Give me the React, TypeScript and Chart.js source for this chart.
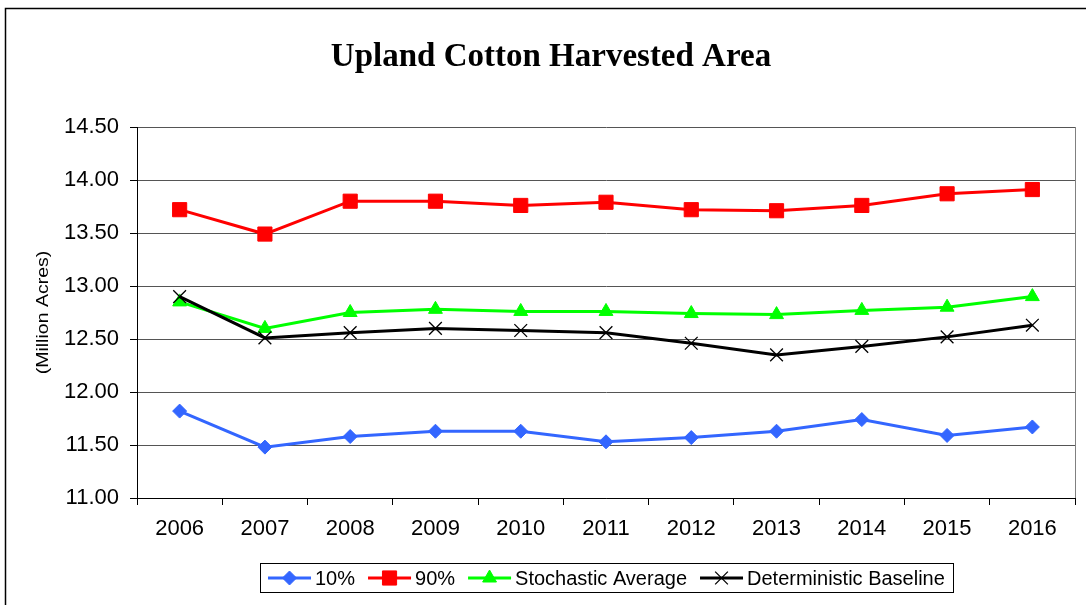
import { useEffect, useRef } from 'react';
import { Chart, registerables } from 'chart.js';
import { drawPoint } from 'chart.js/helpers';

Chart.register(...registerables);

const chartTitle = 'Upland Cotton Harvested Area';
const yAxisTitle = '(Million Acres)';
const years = ['2006', '2007', '2008', '2009', '2010', '2011', '2012', '2013', '2014', '2015', '2016'];
const p10 = [11.82, 11.48, 11.58, 11.63, 11.63, 11.53, 11.57, 11.63, 11.74, 11.59, 11.67];
const p90 = [13.72, 13.49, 13.80, 13.80, 13.76, 13.79, 13.72, 13.71, 13.76, 13.87, 13.91];
const stochasticAverage = [12.85, 12.60, 12.75, 12.78, 12.76, 12.76, 12.74, 12.73, 12.77, 12.80, 12.90];
const deterministicBaseline = [12.90, 12.51, 12.56, 12.60, 12.58, 12.56, 12.46, 12.35, 12.43, 12.52, 12.63];
const yMin = 11;
const yMax = 14.5;
const yStep = 0.5;

const SANS = 'Arial, "Liberation Sans", sans-serif';
const SERIF = '"Times New Roman", "Liberation Serif", serif';

const decorPlugin = {
  id: 'decor',
  beforeDraw(chart: any) {
    const ctx = chart.ctx;
    ctx.save();
    ctx.fillStyle = '#fff';
    ctx.fillRect(0, 0, chart.width, chart.height);
    // outer frame
    ctx.strokeStyle = '#000';
    ctx.lineWidth = 1.5;
    ctx.beginPath();
    ctx.moveTo(5.5, chart.height);
    ctx.lineTo(5.5, 8.5);
    ctx.lineTo(chart.width, 8.5);
    ctx.stroke();
    ctx.restore();
  },
  beforeDatasetsDraw(chart: any) {
    const ctx = chart.ctx;
    const a = chart.chartArea;
    ctx.save();
    ctx.strokeStyle = '#808080';
    ctx.lineWidth = 1;
    ctx.beginPath();
    ctx.moveTo(Math.round(a.right) + 0.5, a.top);
    ctx.lineTo(Math.round(a.right) + 0.5, a.bottom);
    ctx.stroke();
    ctx.restore();
  },
  afterDraw(chart: any) {
    const ctx = chart.ctx;
    const a = chart.chartArea;
    ctx.save();
    // title
    ctx.fillStyle = '#000';
    ctx.font = 'bold 33px ' + SERIF;
    ctx.textAlign = 'center';
    ctx.textBaseline = 'alphabetic';
    ctx.fillText(chartTitle, 551, 66);

    // y axis title (slightly stretched along its length)
    ctx.save();
    ctx.translate(44, (a.top + a.bottom) / 2);
    ctx.rotate(-Math.PI / 2);
    ctx.scale(1.22, 1);
    ctx.font = '16px ' + SANS;
    ctx.textAlign = 'center';
    ctx.textBaseline = 'middle';
    ctx.fillText(yAxisTitle, 0, 0);
    ctx.restore();

    // legend
    ctx.font = '20px ' + SANS;
    ctx.textBaseline = 'middle';
    ctx.textAlign = 'left';
    const lineLen = 43;
    const gap = 4;
    const itemGap = 13;
    const padX = 8;
    const items = chart.data.datasets.map((ds: any) => ({ ds, w: ctx.measureText(ds.label).width }));
    const total =
      items.reduce((s: number, it: any) => s + lineLen + gap + it.w, 0) + itemGap * (items.length - 1) + padX * 2;
    const cx = (a.left + a.right) / 2;
    const top = 563;
    const h = 29;
    let x = Math.round(cx - total / 2);
    ctx.strokeStyle = '#000';
    ctx.lineWidth = 1;
    ctx.strokeRect(x + 0.5, top + 0.5, Math.round(total), h);
    x += padX;
    const cy = top + h / 2 + 0.5;
    items.forEach((it: any) => {
      const ds = it.ds;
      ctx.strokeStyle = ds.borderColor;
      ctx.lineWidth = 3;
      ctx.beginPath();
      ctx.moveTo(x, cy);
      ctx.lineTo(x + lineLen, cy);
      ctx.stroke();
      ctx.fillStyle = ds.pointBackgroundColor;
      ctx.strokeStyle = ds.pointBorderColor;
      ctx.lineWidth = ds.pointBorderWidth;
      drawPoint(ctx, { pointStyle: ds.pointStyle, radius: ds.pointRadius, borderWidth: ds.pointBorderWidth, rotation: 0 }, x + lineLen / 2, cy);
      ctx.fillStyle = '#000';
      ctx.fillText(ds.label, x + lineLen + gap, cy + 1);
      x += lineLen + gap + it.w + itemGap;
    });
    ctx.restore();
  },
};

export default function App() {
  const ref = useRef<HTMLCanvasElement | null>(null);

  useEffect(() => {
    if (!ref.current) return;
    const mk = (label: string, data: number[], color: string, style: string, r: number, order: number, pbColor?: string, pbw = 1) => ({
      label,
      data,
      borderColor: color,
      backgroundColor: color,
      borderWidth: 3,
      tension: 0,
      pointStyle: style,
      pointRadius: r,
      pointHoverRadius: r,
      pointBackgroundColor: color,
      pointBorderColor: pbColor || color,
      pointBorderWidth: pbw,
      order,
    });
    const chart = new Chart(ref.current, {
      type: 'line',
      data: {
        labels: years,
        datasets: [
          mk('10%', p10, '#3366FF', 'rectRot', 7, 4),
          mk('90%', p90, '#FF0000', 'rect', 10, 3),
          mk('Stochastic Average', stochasticAverage, '#00FF00', 'triangle', 8, 2),
          mk('Deterministic Baseline', deterministicBaseline, '#000000', 'crossRot', 9, 1, '#000000', 1.3),
        ] as any,
      },
      options: {
        animation: false,
        responsive: false,
        maintainAspectRatio: false,
        events: [],
        layout: { padding: { left: 0, right: 11, top: 127, bottom: 0 } },
        plugins: {
          legend: { display: false },
          title: { display: false },
          tooltip: { enabled: false },
        },
        scales: {
          x: {
            offset: true,
            grid: { offset: true, drawOnChartArea: false, drawTicks: true, tickLength: 7, color: '#000', tickColor: '#000' },
            border: { color: '#000', width: 1 },
            ticks: { font: { family: SANS, size: 22 }, color: '#000', padding: 11, maxRotation: 0, autoSkip: false },
            afterFit: (s: any) => {
              s.height = 107;
            },
          },
          y: {
            min: yMin,
            max: yMax,
            ticks: {
              stepSize: yStep,
              callback: (v: any) => Number(v).toFixed(2),
              font: { family: SANS, size: 22 },
              color: '#000',
              padding: 11,
            },
            grid: { color: '#555', tickLength: 7, tickColor: '#000', lineWidth: 1 },
            border: { color: '#000', width: 1 },
            afterFit: (s: any) => {
              s.width = 137;
            },
          },
        },
      } as any,
      plugins: [decorPlugin],
    });
    return () => chart.destroy();
  }, []);

  return (
    <div style={{ position: 'absolute', left: 0, top: 0, width: 1086, height: 605 }}>
      <canvas ref={ref} width={1086} height={605} style={{ display: 'block', width: 1086, height: 605 }} />
    </div>
  );
}
